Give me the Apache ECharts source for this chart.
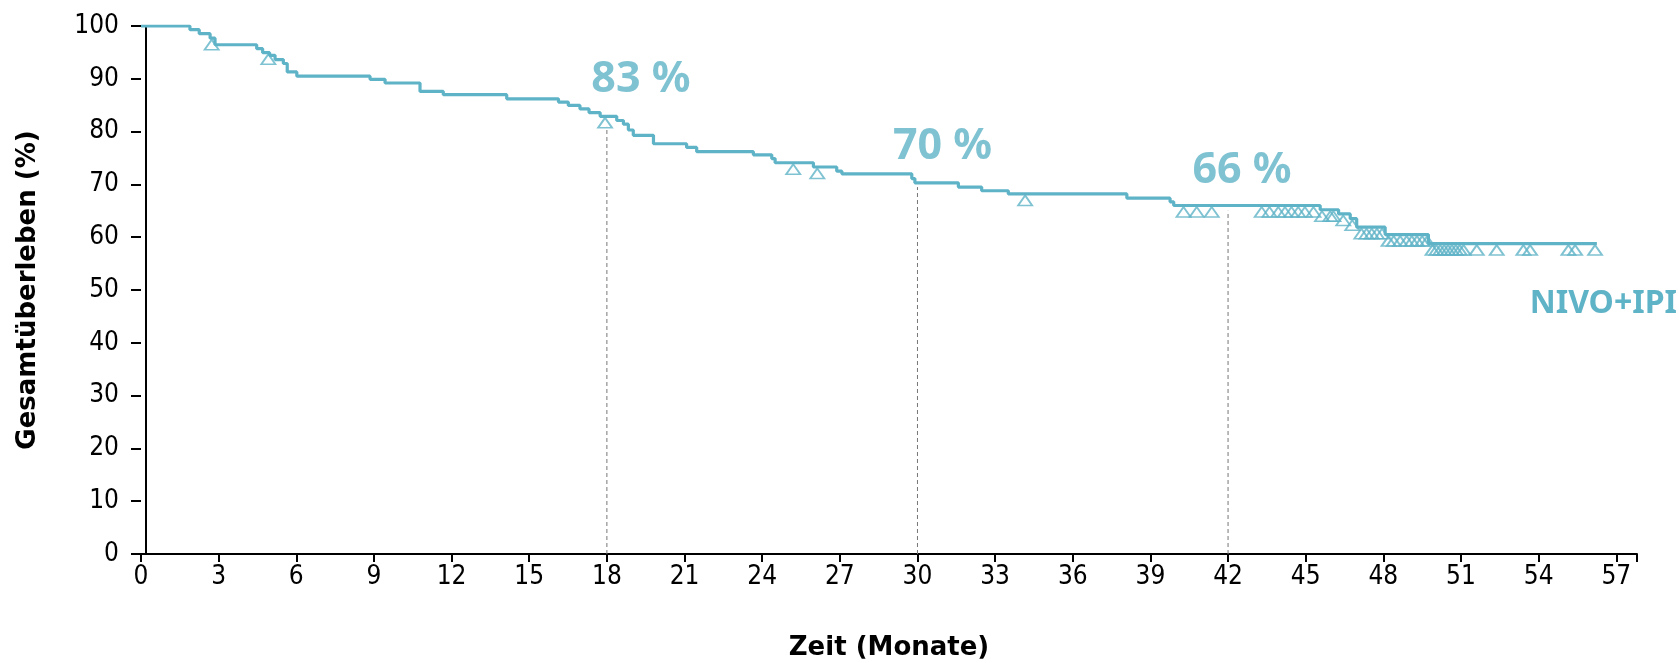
<!DOCTYPE html>
<html>
<head>
<meta charset="utf-8">
<script src="https://cdn.jsdelivr.net/npm/echarts@6/dist/echarts.min.js"></script>
<style>
html,body{margin:0;padding:0;background:#fff;}
#chart{width:1679px;height:663px;}
</style>
</head>
<body>
<div id="chart"></div>
<script>
// Kaplan-Meier step curve (month at which the value changes, value after the drop)
const stepMonths = [0, 1.89, 2.25, 2.67, 2.86, 4.47, 4.70, 4.97, 5.18, 5.50, 5.65, 6.02, 8.85, 9.43, 10.78, 11.68, 14.13, 16.13, 16.51, 16.96, 17.31, 17.74, 18.38, 18.64, 18.83, 19.02, 19.80, 21.08, 21.47, 23.66, 24.37, 24.50, 25.98, 26.88, 27.08, 29.78, 29.90, 31.58, 32.48, 33.51, 38.09, 39.76, 39.90, 45.56, 46.27, 46.72, 46.97, 48.07, 49.74, 56.25];
const stepSurvival = [100, 99.3, 98.55, 97.7, 96.45, 95.7, 94.95, 94.45, 93.65, 92.9, 91.3, 90.5, 89.9, 89.2, 87.6, 87.0, 86.2, 85.6, 84.95, 84.3, 83.6, 82.9, 82.1, 81.4, 80.3, 79.3, 77.7, 77.0, 76.2, 75.6, 74.9, 74.1, 73.3, 72.5, 72.0, 71.1, 70.3, 69.5, 68.8, 68.2, 67.4, 66.7, 66.0, 65.2, 64.4, 63.5, 61.9, 60.5, 58.8, 58.8];

// Censored observations (triangles)
const censorMonths = [2.73, 4.92, 17.93, 25.2, 26.13, 34.16, 40.28, 40.79, 41.37, 43.3, 43.6, 43.94, 44.2, 44.45, 44.71, 44.97, 45.3, 45.63, 45.95, 46.07, 46.45, 46.8, 47.15, 47.35, 47.55, 47.75, 47.95, 48.2, 48.4, 48.65, 48.9, 49.1, 49.3, 49.5, 49.7, 49.9, 50.05, 50.2, 50.35, 50.5, 50.65, 50.8, 50.95, 51.1, 51.61, 52.38, 53.41, 53.67, 55.15, 55.41, 56.18];
const censorSurvival = [97.7, 94.95, 82.9, 74.1, 73.3, 68.2, 66.0, 66.0, 66.0, 66.0, 66.0, 66.0, 66.0, 66.0, 66.0, 66.0, 66.0, 65.2, 65.2, 65.2, 64.4, 63.5, 61.9, 61.9, 61.9, 61.9, 61.9, 60.5, 60.5, 60.5, 60.5, 60.5, 60.5, 60.5, 60.5, 58.8, 58.8, 58.8, 58.8, 58.8, 58.8, 58.8, 58.8, 58.8, 58.8, 58.8, 58.8, 58.8, 58.8, 58.8, 58.8];

// Landmark annotations
const refMonths = [18, 30, 42];
const refPct = [83, 70, 66];
const refLineTop = [80.9, 69.5, 65.0];
const seriesName = 'NIVO+IPI';

const COLOR = '#5fb3c7';
const TICKFONT = '"DejaVu Sans Condensed", Roboto, sans-serif';
const TITLEFONT = '"DejaVu Sans", sans-serif';
const ANNOFONT = '"Noto Sans", sans-serif';
const labelOffsets = [[34, -36.5], [25, -38], [14, -35]];

const kmData = stepMonths.map((m, i) => [m, stepSurvival[i]]);
const censorData = censorMonths.map((m, i) => [m, censorSurvival[i]]);

const refSeries = refMonths.map((m, i) => ({
  type: 'line',
  data: [[m, 0], [m, refLineTop[i]]],
  showSymbol: false,
  silent: true,
  z: 1,
  lineStyle: { color: '#777', width: 1, type: [4, 3] }
}));

const chart = echarts.init(document.getElementById('chart'), null, { renderer: 'canvas' });
chart.setOption({
  animation: false,
  backgroundColor: '#fff',
  grid: { left: 141, right: 42, top: 26, bottom: 109, containLabel: false, outerBoundsMode: 'none' },
  xAxis: {
    type: 'value', min: 0, max: 57.8, interval: 3,
    name: 'Zeit (Monate)', nameLocation: 'middle', nameGap: 81,
    nameTextStyle: { fontFamily: TITLEFONT, fontWeight: 'bold', fontSize: 26, color: '#000' },
    axisLine: { show: true, onZero: false, lineStyle: { color: '#000', width: 2 } },
    axisTick: { show: true, length: 8, lineStyle: { color: '#000', width: 2 } },
    axisLabel: { fontFamily: TICKFONT, fontSize: 26, color: '#000', margin: 10,
      formatter: v => (v % 3 === 0 && v <= 57) ? String(v) : '' },
    splitLine: { show: false }
  },
  yAxis: [{
    type: 'value', min: 0, max: 100, interval: 10,
    name: 'Gesamtüberleben (%)', nameLocation: 'middle', nameGap: 100, nameRotate: 90,
    nameTextStyle: { fontFamily: TITLEFONT, fontWeight: 'bold', fontSize: 26, color: '#000' },
    axisLine: { show: false },
    axisTick: { show: true, length: 10, lineStyle: { color: '#000', width: 2 } },
    axisLabel: { fontFamily: TICKFONT, fontSize: 26, color: '#000', margin: 22 },
    splitLine: { show: false }
  }, {
    type: 'value', min: 0, max: 100, interval: 10, position: 'left', offset: -5,
    axisLine: { show: true, lineStyle: { color: '#000', width: 2 } },
    axisTick: { show: false }, axisLabel: { show: false }, splitLine: { show: false }
  }],
  series: [
    ...refSeries,
    {
      type: 'line', name: seriesName, step: 'end', data: kmData,
      showSymbol: false, z: 3,
      lineStyle: { color: COLOR, width: 3.2 }
    },
    {
      type: 'scatter', data: censorData, z: 4,
      symbol: 'triangle', symbolSize: [14, 10], symbolOffset: [0, 6.5],
      itemStyle: { color: 'rgba(255,255,255,0)', borderColor: COLOR, borderWidth: 1.8 }
    },
    {
      type: 'scatter', z: 5, symbolSize: 0, silent: true,
      data: refMonths.map((m, i) => ({
        value: [m, refPct[i]],
        label: {
          show: true, position: 'inside', offset: labelOffsets[i],
          formatter: refPct[i] + ' %',
          fontFamily: ANNOFONT, fontWeight: 'bold', fontSize: 43, color: COLOR
        }
      }))
    }
  ],
  graphic: [{
    type: 'text', right: 2, top: 288, silent: true,
    style: { text: seriesName, fontFamily: ANNOFONT, fontWeight: 'bold', fontSize: 32, fill: COLOR }
  }]
});
</script>
</body>
</html>
